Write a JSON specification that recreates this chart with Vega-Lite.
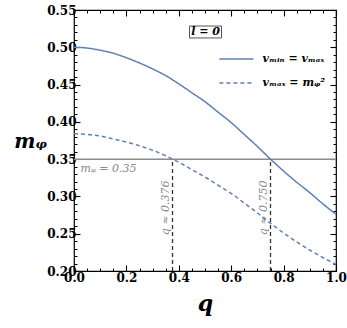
{
  "$schema": "https://vega.github.io/schema/vega-lite/v6.json",
  "width": 262,
  "height": 261,
  "autosize": "none",
  "padding": {"left": 74, "top": 10, "right": 11, "bottom": 57},
  "background": "white",
  "config": {"view": {"stroke": "black", "strokeWidth": 1.2}},
  "datasets": {
    "curves": [
      {"q": 0, "m": 0.5, "curve": "vmin = vmax"},
      {"q": 0.05, "m": 0.499, "curve": "vmin = vmax"},
      {"q": 0.1, "m": 0.496, "curve": "vmin = vmax"},
      {"q": 0.15, "m": 0.492, "curve": "vmin = vmax"},
      {"q": 0.2, "m": 0.486, "curve": "vmin = vmax"},
      {"q": 0.25, "m": 0.479, "curve": "vmin = vmax"},
      {"q": 0.3, "m": 0.471, "curve": "vmin = vmax"},
      {"q": 0.35, "m": 0.462, "curve": "vmin = vmax"},
      {"q": 0.4, "m": 0.451, "curve": "vmin = vmax"},
      {"q": 0.45, "m": 0.439, "curve": "vmin = vmax"},
      {"q": 0.5, "m": 0.427, "curve": "vmin = vmax"},
      {"q": 0.55, "m": 0.413, "curve": "vmin = vmax"},
      {"q": 0.6, "m": 0.399, "curve": "vmin = vmax"},
      {"q": 0.65, "m": 0.383, "curve": "vmin = vmax"},
      {"q": 0.7, "m": 0.367, "curve": "vmin = vmax"},
      {"q": 0.75, "m": 0.35, "curve": "vmin = vmax"},
      {"q": 0.8, "m": 0.334, "curve": "vmin = vmax"},
      {"q": 0.85, "m": 0.319, "curve": "vmin = vmax"},
      {"q": 0.9, "m": 0.305, "curve": "vmin = vmax"},
      {"q": 0.95, "m": 0.29, "curve": "vmin = vmax"},
      {"q": 1.0, "m": 0.276, "curve": "vmin = vmax"},
      {"q": 0, "m": 0.384, "curve": "vmax = m2"},
      {"q": 0.05, "m": 0.383, "curve": "vmax = m2"},
      {"q": 0.1, "m": 0.381, "curve": "vmax = m2"},
      {"q": 0.15, "m": 0.377, "curve": "vmax = m2"},
      {"q": 0.2, "m": 0.373, "curve": "vmax = m2"},
      {"q": 0.25, "m": 0.368, "curve": "vmax = m2"},
      {"q": 0.3, "m": 0.362, "curve": "vmax = m2"},
      {"q": 0.35, "m": 0.3545, "curve": "vmax = m2"},
      {"q": 0.376, "m": 0.35, "curve": "vmax = m2"},
      {"q": 0.4, "m": 0.346, "curve": "vmax = m2"},
      {"q": 0.45, "m": 0.336, "curve": "vmax = m2"},
      {"q": 0.5, "m": 0.326, "curve": "vmax = m2"},
      {"q": 0.55, "m": 0.315, "curve": "vmax = m2"},
      {"q": 0.6, "m": 0.304, "curve": "vmax = m2"},
      {"q": 0.65, "m": 0.291, "curve": "vmax = m2"},
      {"q": 0.7, "m": 0.278, "curve": "vmax = m2"},
      {"q": 0.75, "m": 0.264, "curve": "vmax = m2"},
      {"q": 0.8, "m": 0.251, "curve": "vmax = m2"},
      {"q": 0.85, "m": 0.239, "curve": "vmax = m2"},
      {"q": 0.9, "m": 0.228, "curve": "vmax = m2"},
      {"q": 0.95, "m": 0.218, "curve": "vmax = m2"},
      {"q": 1.0, "m": 0.209, "curve": "vmax = m2"}
    ],
    "crossings": [
      {"q": 0.376, "label": "q ≈ 0.376"},
      {"q": 0.75, "label": "q ≈ 0.750"}
    ],
    "one": [{}]
  },
  "resolve": {"axis": {"x": "independent", "y": "independent"}},
  "layer": [
    {
      "data": {"name": "curves"},
      "mark": {"type": "point", "opacity": 0},
      "encoding": {
        "x": {"field": "q", "type": "quantitative", "scale": {"domain": [0, 1], "nice": false, "zero": false},
          "axis": {"orient": "bottom", "values": [0, 0.2, 0.4, 0.6, 0.8, 1], "format": ".1f", "labels": true, "labelFont": "DejaVu Serif", "labelFontWeight": "bold", "labelFontSize": 12, "labelColor": "black", "labelPadding": 1, "labelFlush": false, "labelOverlap": false, "domain": false, "grid": false, "ticks": true, "tickSize": 6, "offset": -6, "tickColor": "#000000", "tickWidth": 1.1, "title": "q", "titleFont": "DejaVu Serif", "titleFontSize": 22, "titleFontWeight": "bold", "titleFontStyle": "italic", "titleColor": "black", "titleX": 131, "titleY": 45, "titleBaseline": "alphabetic", "titleAlign": "center"}},
        "y": {"field": "m", "type": "quantitative", "scale": {"domain": [0.2, 0.55], "nice": false, "zero": false},
          "axis": {"orient": "left", "values": [0.2, 0.25, 0.3, 0.35, 0.4, 0.45, 0.5, 0.55], "format": ".2f", "labels": true, "labelFont": "DejaVu Serif", "labelFontWeight": "bold", "labelFontSize": 12, "labelColor": "black", "labelPadding": -2, "labelFlush": false, "labelOverlap": false, "domain": false, "grid": false, "ticks": true, "tickSize": 6, "offset": -6, "tickColor": "#000000", "tickWidth": 1.1, "title": "mᵩ", "titleFont": "DejaVu Serif", "titleFontSize": 20, "titleFontWeight": "bold", "titleFontStyle": "italic", "titleColor": "black", "titleAngle": 0, "titleX": -50, "titleY": 137, "titleBaseline": "alphabetic", "titleAlign": "center"}}
      }
    },
    {
      "data": {"name": "curves"},
      "mark": {"type": "point", "opacity": 0},
      "encoding": {
        "x": {"field": "q", "type": "quantitative", "scale": {"domain": [0, 1], "nice": false, "zero": false},
          "axis": {"orient": "bottom", "values": [0, 0.05, 0.1, 0.15, 0.2, 0.25, 0.3, 0.35, 0.4, 0.45, 0.5, 0.55, 0.6, 0.65, 0.7, 0.75, 0.8, 0.85, 0.9, 0.95, 1], "labels": false, "domain": false, "grid": false, "ticks": true, "tickSize": 3, "offset": -3, "tickColor": "#000000", "tickWidth": 1, "title": null}},
        "y": {"field": "m", "type": "quantitative", "scale": {"domain": [0.2, 0.55], "nice": false, "zero": false},
          "axis": {"orient": "left", "values": [0.2, 0.21, 0.22, 0.23, 0.24, 0.25, 0.26, 0.27, 0.28, 0.29, 0.3, 0.31, 0.32, 0.33, 0.34, 0.35, 0.36, 0.37, 0.38, 0.39, 0.4, 0.41, 0.42, 0.43, 0.44, 0.45, 0.46, 0.47, 0.48, 0.49, 0.5, 0.51, 0.52, 0.53, 0.54, 0.55], "labels": false, "domain": false, "grid": false, "ticks": true, "tickSize": 3, "offset": -3, "tickColor": "#000000", "tickWidth": 1, "title": null}}
      }
    },
    {
      "data": {"name": "curves"},
      "mark": {"type": "point", "opacity": 0},
      "encoding": {
        "x": {"field": "q", "type": "quantitative", "scale": {"domain": [0, 1], "nice": false, "zero": false},
          "axis": {"orient": "top", "values": [0, 0.2, 0.4, 0.6, 0.8, 1], "labels": false, "domain": false, "grid": false, "ticks": true, "tickSize": 6, "offset": -6, "tickColor": "#000000", "tickWidth": 1.1, "title": null}},
        "y": {"field": "m", "type": "quantitative", "scale": {"domain": [0.2, 0.55], "nice": false, "zero": false},
          "axis": {"orient": "right", "values": [0.2, 0.25, 0.3, 0.35, 0.4, 0.45, 0.5, 0.55], "labels": false, "domain": false, "grid": false, "ticks": true, "tickSize": 6, "offset": -6, "tickColor": "#000000", "tickWidth": 1.1, "title": null}}
      }
    },
    {
      "data": {"name": "curves"},
      "mark": {"type": "point", "opacity": 0},
      "encoding": {
        "x": {"field": "q", "type": "quantitative", "scale": {"domain": [0, 1], "nice": false, "zero": false},
          "axis": {"orient": "top", "values": [0, 0.05, 0.1, 0.15, 0.2, 0.25, 0.3, 0.35, 0.4, 0.45, 0.5, 0.55, 0.6, 0.65, 0.7, 0.75, 0.8, 0.85, 0.9, 0.95, 1], "labels": false, "domain": false, "grid": false, "ticks": true, "tickSize": 3, "offset": -3, "tickColor": "#000000", "tickWidth": 1, "title": null}},
        "y": {"field": "m", "type": "quantitative", "scale": {"domain": [0.2, 0.55], "nice": false, "zero": false},
          "axis": {"orient": "right", "values": [0.2, 0.21, 0.22, 0.23, 0.24, 0.25, 0.26, 0.27, 0.28, 0.29, 0.3, 0.31, 0.32, 0.33, 0.34, 0.35, 0.36, 0.37, 0.38, 0.39, 0.4, 0.41, 0.42, 0.43, 0.44, 0.45, 0.46, 0.47, 0.48, 0.49, 0.5, 0.51, 0.52, 0.53, 0.54, 0.55], "labels": false, "domain": false, "grid": false, "ticks": true, "tickSize": 3, "offset": -3, "tickColor": "#000000", "tickWidth": 1, "title": null}}
      }
    },
    {
      "data": {"name": "one"},
      "mark": {"type": "rule", "color": "#8c8c8c", "strokeWidth": 1.5},
      "encoding": {"y": {"datum": 0.35, "type": "quantitative", "scale": {"domain": [0.2, 0.55], "nice": false, "zero": false}, "axis": null}}
    },
    {
      "data": {"name": "crossings"},
      "mark": {"type": "rule", "color": "#333333", "strokeWidth": 1.3, "strokeDash": [4, 3]},
      "encoding": {
        "x": {"field": "q", "type": "quantitative", "scale": {"domain": [0, 1], "nice": false, "zero": false}, "axis": null},
        "y": {"datum": 0.2, "type": "quantitative", "scale": {"domain": [0.2, 0.55], "nice": false, "zero": false}, "axis": null},
        "y2": {"datum": 0.35}
      }
    },
    {
      "data": {"name": "crossings"},
      "mark": {"type": "text", "angle": -90, "align": "left", "baseline": "bottom", "dy": -2, "font": "DejaVu Serif", "fontStyle": "italic", "fontSize": 11, "color": "#888888"},
      "encoding": {
        "x": {"field": "q", "type": "quantitative", "scale": {"domain": [0, 1], "nice": false, "zero": false}, "axis": null},
        "y": {"datum": 0.248, "type": "quantitative", "scale": {"domain": [0.2, 0.55], "nice": false, "zero": false}, "axis": null},
        "text": {"field": "label"}
      }
    },
    {
      "data": {"name": "one"},
      "mark": {"type": "text", "align": "left", "baseline": "top", "dy": 4, "font": "DejaVu Serif", "fontStyle": "italic", "fontSize": 11, "color": "#888888", "text": "mᵩ = 0.35"},
      "encoding": {
        "x": {"datum": 0.025, "type": "quantitative", "scale": {"domain": [0, 1], "nice": false, "zero": false}, "axis": null},
        "y": {"datum": 0.35, "type": "quantitative", "scale": {"domain": [0.2, 0.55], "nice": false, "zero": false}, "axis": null}
      }
    },
    {
      "data": {"name": "curves"},
      "mark": {"type": "line", "color": "#5e81b5", "strokeWidth": 1.5, "interpolate": "monotone"},
      "encoding": {
        "x": {"field": "q", "type": "quantitative", "scale": {"domain": [0, 1], "nice": false, "zero": false}, "axis": null},
        "y": {"field": "m", "type": "quantitative", "scale": {"domain": [0.2, 0.55], "nice": false, "zero": false}, "axis": null},
        "strokeDash": {"field": "curve", "type": "nominal", "scale": {"domain": ["vmin = vmax", "vmax = m2"], "range": [[1, 0], [4, 3]]}, "legend": null}
      }
    },
    {
      "data": {"name": "one"},
      "mark": {"type": "rect", "fill": "white", "stroke": "#555555", "strokeWidth": 1},
      "encoding": {
        "x": {"datum": 0.441, "type": "quantitative", "scale": {"domain": [0, 1], "nice": false, "zero": false}, "axis": null},
        "x2": {"datum": 0.563},
        "y": {"datum": 0.5285, "type": "quantitative", "scale": {"domain": [0.2, 0.55], "nice": false, "zero": false}, "axis": null},
        "y2": {"datum": 0.5125}
      }
    },
    {
      "data": {"name": "one"},
      "mark": {"type": "text", "align": "center", "baseline": "middle", "font": "DejaVu Serif", "fontStyle": "italic", "fontWeight": "bold", "fontSize": 11, "color": "black", "text": "l = 0"},
      "encoding": {
        "x": {"datum": 0.502, "type": "quantitative", "scale": {"domain": [0, 1], "nice": false, "zero": false}, "axis": null},
        "y": {"datum": 0.5205, "type": "quantitative", "scale": {"domain": [0.2, 0.55], "nice": false, "zero": false}, "axis": null}
      }
    },
    {
      "data": {"name": "one"},
      "mark": {"type": "rule", "color": "#5e81b5", "strokeWidth": 1.5},
      "encoding": {
        "x": {"datum": 0.555, "type": "quantitative", "scale": {"domain": [0, 1], "nice": false, "zero": false}, "axis": null},
        "x2": {"datum": 0.685},
        "y": {"datum": 0.4843, "type": "quantitative", "scale": {"domain": [0.2, 0.55], "nice": false, "zero": false}, "axis": null}
      }
    },
    {
      "data": {"name": "one"},
      "mark": {"type": "rule", "color": "#5e81b5", "strokeWidth": 1.5, "strokeDash": [4, 3]},
      "encoding": {
        "x": {"datum": 0.555, "type": "quantitative", "scale": {"domain": [0, 1], "nice": false, "zero": false}, "axis": null},
        "x2": {"datum": 0.685},
        "y": {"datum": 0.4521, "type": "quantitative", "scale": {"domain": [0.2, 0.55], "nice": false, "zero": false}, "axis": null}
      }
    },
    {
      "data": {"name": "one"},
      "mark": {"type": "text", "align": "left", "baseline": "middle", "font": "DejaVu Serif", "fontStyle": "italic", "fontWeight": "bold", "fontSize": 11, "color": "black", "text": "vₘᵢₙ = vₘₐₓ"},
      "encoding": {
        "x": {"datum": 0.7195, "type": "quantitative", "scale": {"domain": [0, 1], "nice": false, "zero": false}, "axis": null},
        "y": {"datum": 0.4843, "type": "quantitative", "scale": {"domain": [0.2, 0.55], "nice": false, "zero": false}, "axis": null}
      }
    },
    {
      "data": {"name": "one"},
      "mark": {"type": "text", "align": "left", "baseline": "middle", "font": "DejaVu Serif", "fontStyle": "italic", "fontWeight": "bold", "fontSize": 11, "color": "black", "text": "vₘₐₓ = mᵩ²"},
      "encoding": {
        "x": {"datum": 0.7195, "type": "quantitative", "scale": {"domain": [0, 1], "nice": false, "zero": false}, "axis": null},
        "y": {"datum": 0.4521, "type": "quantitative", "scale": {"domain": [0.2, 0.55], "nice": false, "zero": false}, "axis": null}
      }
    }
  ]
}
